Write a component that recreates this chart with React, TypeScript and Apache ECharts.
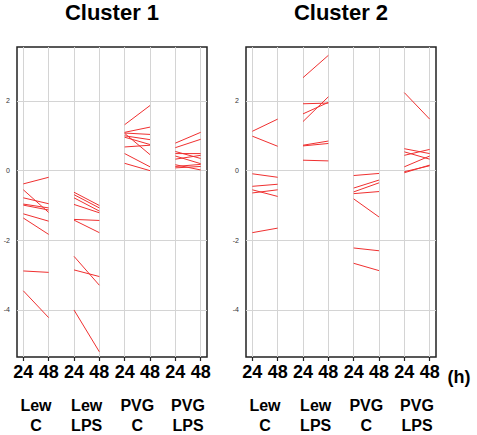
import React, { useEffect, useRef } from "react";
import * as echarts from "echarts";

const timepoints = ["24", "48"];
const groupLabels = ["Lew\nC", "Lew\nLPS", "PVG\nC", "PVG\nLPS"];
const xTickValues = [0, 1, 2, 3, 4, 5, 6, 7];
const groupCenters = [0.5, 2.5, 4.5, 6.5];
const yTickValues = [-4, -2, 0, 2];

// Cluster 1: [value at 24 h, value at 48 h]
const c1LewC = [[-0.38, -0.19], [-0.55, -1.2], [-0.78, -0.95], [-0.96, -1.07], [-0.99, -1.13], [-1.24, -1.45], [-1.36, -1.83], [-2.88, -2.92], [-3.45, -4.22]];
const c1LewLPS = [[-0.62, -1.0], [-0.69, -1.07], [-0.78, -1.16], [-0.97, -1.21], [-1.4, -1.43], [-1.42, -1.78], [-2.46, -3.29], [-2.85, -3.04], [-4.0, -5.2]];
const c1PvgC = [[1.32, 1.87], [1.1, 1.25], [1.08, 1.04], [1.07, 0.46], [1.0, 0.89], [0.96, 0.75], [0.68, 0.73], [0.49, 0.11], [0.21, 0.0]];
const c1PvgLPS = [[0.79, 1.1], [0.66, 0.9], [0.55, 0.35], [0.49, 0.49], [0.42, 0.2], [0.33, 0.44], [0.17, 0.02], [0.12, 0.18], [0.08, 0.12]];

// Cluster 2
const c2LewC = [[1.13, 1.48], [0.99, 0.7], [-0.09, -0.19], [-0.45, -0.39], [-0.55, -0.74], [-0.64, -0.55], [-1.78, -1.65]];
const c2LewLPS = [[2.67, 3.31], [1.92, 1.94], [1.63, 1.96], [1.41, 2.12], [0.73, 0.85], [0.71, 0.78], [0.3, 0.28]];
const c2PvgC = [[-0.14, -0.08], [-0.5, -0.27], [-0.61, -0.35], [-0.66, -0.6], [-0.81, -1.33], [-2.22, -2.3], [-2.66, -2.87]];
const c2PvgLPS = [[2.24, 1.48], [0.63, 0.49], [0.54, 0.33], [0.44, 0.61], [0.11, 0.42], [-0.03, 0.14], [-0.06, 0.16]];

const clusters = [
  { title: "Cluster 1", groups: [c1LewC, c1LewLPS, c1PvgC, c1PvgLPS] },
  { title: "Cluster 2", groups: [c2LewC, c2LewLPS, c2PvgC, c2PvgLPS] },
];

const FONT = "Liberation Sans, Arial, sans-serif";

export default function App() {
  const ref = useRef<HTMLDivElement>(null);
  useEffect(() => {
    if (!ref.current) return;
    const chart = echarts.init(ref.current, null, { renderer: "svg" });
    const gridLefts = [17, 246];
    const grids = gridLefts.map((l) => ({
      left: l,
      top: 47,
      width: 190,
      height: 315,
      show: true,
      borderColor: "#222",
      borderWidth: 1.5,
      backgroundColor: "transparent",
    }));
    const xAxes: any[] = [];
    const yAxes: any[] = [];
    const series: any[] = [];
    clusters.forEach((cl, ci) => {
      xAxes.push({
        type: "value",
        gridIndex: ci,
        min: -0.25,
        max: 7.25,
        position: "bottom",
        axisLine: { show: false, onZero: false },
        axisTick: { show: true, customValues: xTickValues, length: 4, lineStyle: { color: "#222", width: 1.2 } },
        splitLine: { show: true, lineStyle: { color: "#d4d4d4", width: 1 } },
        axisLabel: {
          customValues: xTickValues,
          formatter: (v: number) => timepoints[Math.round(v) % 2],
          fontSize: 18,
          fontWeight: "bold",
          color: "#000",
          fontFamily: FONT,
          margin: 6,
        },
      });
      xAxes.push({
        type: "value",
        gridIndex: ci,
        min: -0.25,
        max: 7.25,
        position: "bottom",
        axisLine: { show: false, onZero: false },
        axisTick: { show: false, customValues: groupCenters },
        splitLine: { show: false },
        axisLabel: {
          customValues: groupCenters,
          formatter: (v: number) => groupLabels[Math.round((v - 0.5) / 2)],
          fontSize: 16,
          fontWeight: "bold",
          lineHeight: 20,
          color: "#000",
          fontFamily: FONT,
          margin: 38,
        },
      });
      yAxes.push({
        type: "value",
        gridIndex: ci,
        min: -5.35,
        max: 3.55,
        axisLine: { show: false, onZero: false },
        axisTick: { show: false, customValues: yTickValues },
        splitLine: { show: true, lineStyle: { color: "#d4d4d4", width: 1 } },
        axisLabel: {
          customValues: yTickValues,
          fontSize: 7,
          color: "#333",
          fontFamily: FONT,
          margin: 7,
        },
      });
      cl.groups.forEach((grp, gi) => {
        grp.forEach((pair) => {
          series.push({
            type: "line",
            xAxisIndex: ci * 2,
            yAxisIndex: ci,
            data: [
              [gi * 2, pair[0]],
              [gi * 2 + 1, pair[1]],
            ],
            symbol: "none",
            silent: true,
            lineStyle: { color: "#f03030", width: 1 },
          });
        });
      });
    });
    chart.setOption({
      animation: false,
      backgroundColor: "#fff",
      grid: grids,
      xAxis: xAxes,
      yAxis: yAxes,
      series,
      graphic: [
        ...clusters.map((cl, ci) => ({
          type: "text",
          x: gridLefts[ci] + 95,
          y: 12,
          style: {
            text: cl.title,
            fontSize: 22,
            fontWeight: "bold",
            fontFamily: FONT,
            fill: "#000",
            textAlign: "center",
            textVerticalAlign: "middle",
          },
        })),
        {
          type: "text",
          x: 459,
          y: 377,
          style: {
            text: "(h)",
            fontSize: 18,
            fontWeight: "bold",
            fontFamily: FONT,
            fill: "#000",
            textAlign: "center",
            textVerticalAlign: "middle",
          },
        },
      ],
    });
    return () => chart.dispose();
  }, []);
  return <div ref={ref} style={{ position: "fixed", left: 0, top: 0, width: 477, height: 435 }} />;
}
